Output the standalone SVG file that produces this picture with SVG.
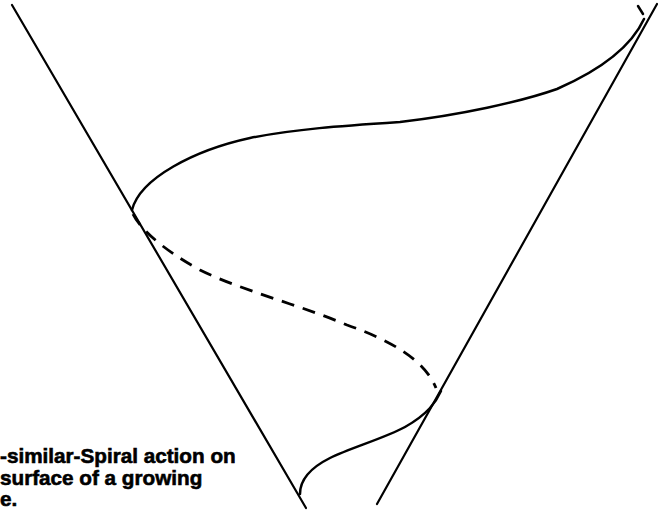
<svg xmlns="http://www.w3.org/2000/svg" width="667" height="510" viewBox="0 0 667 510">
<style>
.ln{fill:none;stroke:#000;stroke-width:2.2;stroke-linecap:round}
.cv{fill:none;stroke:#000;stroke-width:2.5;stroke-linecap:round;stroke-linejoin:round}
.ds{fill:none;stroke:#000;stroke-width:2.8;stroke-dasharray:13 9;stroke-linecap:butt}
.tx{font-family:"Liberation Sans",Arial,sans-serif;font-weight:bold;font-size:20.7px;fill:#000;stroke:#000;stroke-width:0.6}
</style>
<rect width="667" height="510" fill="#fff"/>
<g id="cone">
<line class="ln" x1="12" y1="5" x2="306" y2="508"/>
<line class="ln" x1="657" y1="4" x2="377" y2="504"/>
</g>
<g id="spiral">
<path class="cv" d="M644,19 C632,45 605,68 557,89 C520,102 460,115 400,122 C340,126 295,129 250,138 C195,150 140,178 132,210"/>
<path class="ds" d="M133,214 C140,228 160,248 200,270 C240,290 300,305 347,325 C390,340 425,360 436,388"/>
<path class="cv" d="M441,391 C436,402 428,414 405,427 C385,438 350,448 330,458 C310,468 300,480 300,494"/>
<line class="cv" x1="638" y1="6" x2="643" y2="14"/>
</g>
<g id="caption">
<text class="tx" x="0" y="463">-similar-Spiral action on</text>
<text class="tx" x="0" y="484.5">surface of a growing</text>
<text class="tx" x="0" y="506">e.</text>
</g>
</svg>
